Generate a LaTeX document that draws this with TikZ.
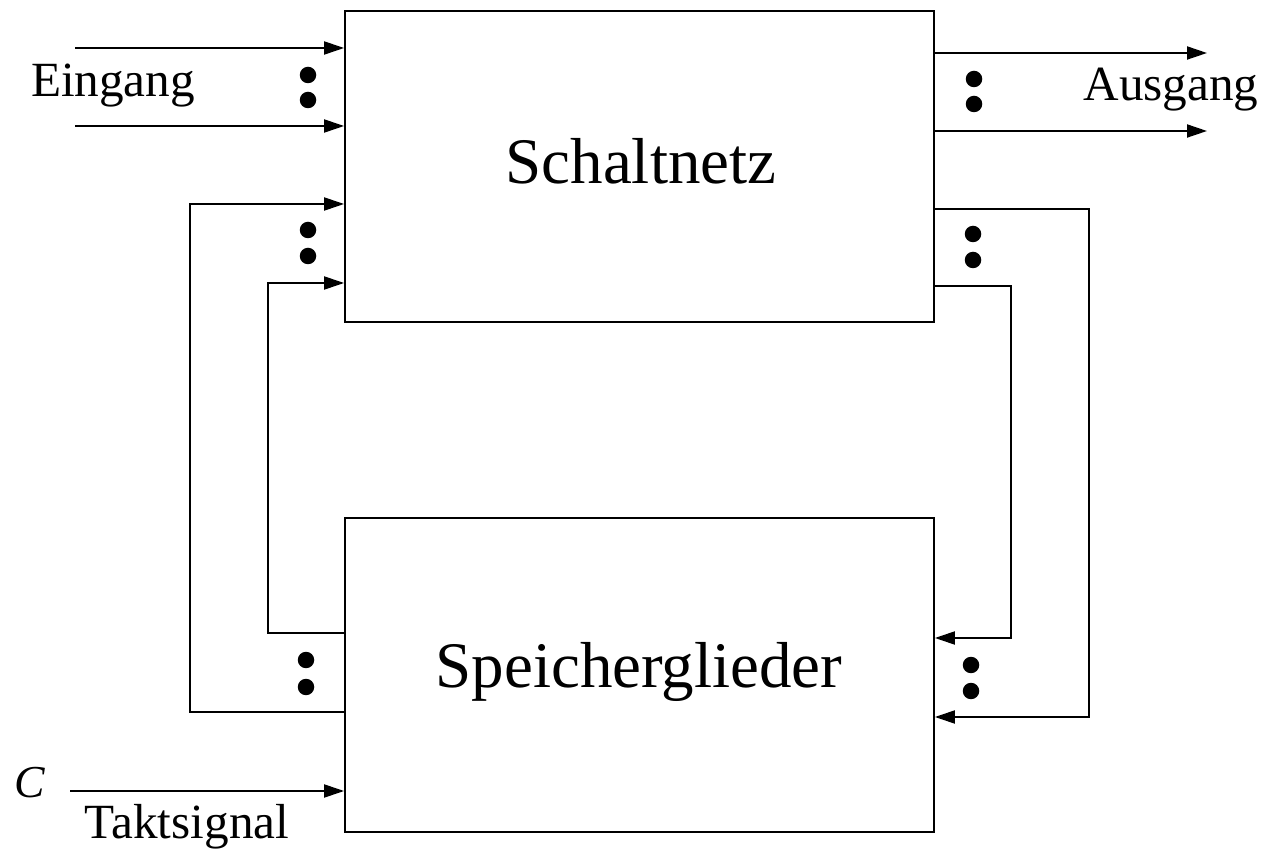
\documentclass[tikz,border=0pt]{standalone}
\usepackage{fontspec}
\setmainfont{Liberation Serif}
\usetikzlibrary{arrows.meta}
\begin{document}
\begin{tikzpicture}[x=0.02cm,y=-0.02cm,
  wire/.style={line width=1.1pt},
  sig/.style={wire,-{Triangle[length=0.4cm,width=0.26cm]}},
  blk/.style={draw,line width=1.1pt,rectangle,inner sep=0pt,font=\fontsize{37}{40}\selectfont},
  lbl/.style={inner sep=0pt,anchor=base,font=\fontsize{28}{30}\selectfont},
  dot/.style={circle,fill=black,inner sep=0pt,minimum size=0.33cm}]
\useasboundingbox (0,0) rectangle (1265,854);

% the two blocks
\node[blk,minimum width=11.78cm,minimum height=6.22cm] (sn) at (639.5,166.5) {};
\node[blk,minimum width=11.78cm,minimum height=6.28cm] (sg) at (639.5,675) {};
\node[inner sep=0pt,anchor=base,font=\fontsize{37}{40}\selectfont] (snt) at (641,184) {Schaltnetz};
\node[inner sep=0pt,anchor=base,font=\fontsize{37}{40}\selectfont] (sgt) at (639,687) {Speicherglieder};

% free ends of the external lines
\coordinate (in1) at (75,48);
\coordinate (in2) at (75,126);
\coordinate (out1) at (1207,53);
\coordinate (out2) at (1207,131);
\coordinate (clk) at (70,791);

% inputs
\draw[sig] (in1) -- (sn.west |- in1);
\draw[sig] (in2) -- (sn.west |- in2);
\node[lbl] (ein) at (113,97) {Eingang};
\node[dot] (d1) at (308,75) {};
\node[dot] (d2) at (308,100) {};

% outputs
\draw[sig] (sn.east |- out1) -- (out1);
\draw[sig] (sn.east |- out2) -- (out2);
\node[lbl] (aus) at (1171,101) {Ausgang};
\node[dot] (d3) at (974,79) {};
\node[dot] (d4) at (974,104) {};

% feedback: Speicherglieder -> Schaltnetz
\coordinate (lo) at (190,712);
\coordinate (li) at (268,633);
\draw[sig] (sg.west |- lo) -- (lo) -- (190,204) -- (sn.west |- 0,204);
\draw[sig] (sg.west |- li) -- (li) -- (268,283) -- (sn.west |- 0,283);
\node[dot] (d5) at (308,230) {};
\node[dot] (d6) at (308,256) {};
\node[dot] (d7) at (306,660) {};
\node[dot] (d8) at (306,687) {};

% feedback: Schaltnetz -> Speicherglieder
\coordinate (ro) at (1089,209);
\coordinate (ri) at (1011,286);
\draw[sig] (sn.east |- ro) -- (ro) -- (1089,717) -- (sg.east |- 0,717);
\draw[sig] (sn.east |- ri) -- (ri) -- (1011,638) -- (sg.east |- 0,638);
\node[dot] (d9) at (973,234) {};
\node[dot] (d10) at (973,260) {};
\node[dot] (d11) at (971,665) {};
\node[dot] (d12) at (971,691) {};

% clock
\draw[sig] (clk) -- (sg.west |- clk);
\node[inner sep=0pt,anchor=base,font=\fontsize{26}{28}\selectfont\itshape] (c) at (30,797) {C};
\node[lbl] (takt) at (187,838) {Taktsignal};
\end{tikzpicture}
\end{document}
